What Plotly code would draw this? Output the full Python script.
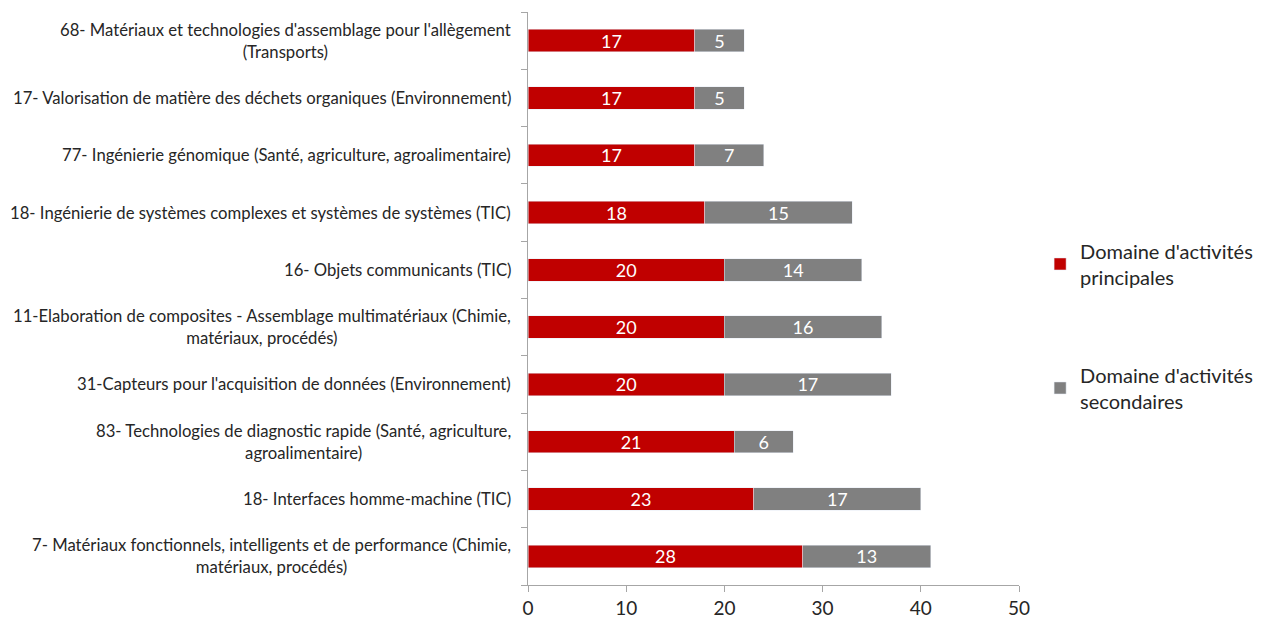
import plotly.graph_objects as go

categories = [
    "7- Matériaux fonctionnels, intelligents et de performance (Chimie,<br>matériaux, procédés)",
    "18- Interfaces homme-machine (TIC)",
    "83- Technologies de diagnostic rapide (Santé, agriculture,<br>agroalimentaire)",
    "31-Capteurs pour l'acquisition de données (Environnement)",
    "11-Elaboration de composites - Assemblage multimatériaux (Chimie,<br>matériaux, procédés)",
    "16- Objets communicants (TIC)",
    "18- Ingénierie de systèmes complexes et systèmes de systèmes (TIC)",
    "77- Ingénierie génomique (Santé, agriculture, agroalimentaire)",
    "17- Valorisation de matière des déchets organiques (Environnement)",
    "68- Matériaux et technologies d'assemblage pour l'allègement<br>(Transports)",
]
principales = [28, 23, 21, 20, 20, 20, 18, 17, 17, 17]
secondaires = [13, 17, 6, 17, 16, 14, 15, 7, 5, 5]
x_ticks = [0, 10, 20, 30, 40, 50]

FONT = "Lato, 'Open Sans', sans-serif"
ids = list(range(len(categories)))

fig = go.Figure()
fig.add_trace(go.Bar(
    y=ids, x=principales, orientation="h", name="Domaine d'activités<br>principales",
    marker=dict(color="#C00000"), text=principales, textposition="inside", textangle=0,
    insidetextanchor="middle", textfont=dict(color="white", size=18, family=FONT),
    legendgroup="a",
))
fig.add_trace(go.Bar(
    y=ids, x=secondaires, orientation="h", name="Domaine d'activités<br>secondaires",
    marker=dict(color="#808080"), text=secondaires, textposition="inside", textangle=0,
    insidetextanchor="middle", textfont=dict(color="white", size=18, family=FONT),
    legendgroup="b",
))

for i, c in enumerate(categories):
    fig.add_annotation(x=-0.030, y=i, xref="paper", yref="y", text=c,
                       showarrow=False, xanchor="right", align="center",
                       font=dict(size=16.7, color="#262626", family=FONT))

fig.update_layout(
    barmode="stack", bargap=0.61,
    width=1256, height=615,
    margin=dict(l=520, r=245, t=4, b=38, autoexpand=False),
    plot_bgcolor="white", paper_bgcolor="white",
    uniformtext=dict(minsize=18, mode="show"),
    legend=dict(x=1.043, y=0.617, xanchor="left", yanchor="top",
                font=dict(size=20, color="#262626", family=FONT),
                tracegroupgap=69, traceorder="grouped", itemwidth=30),
    showlegend=True,
)
fig.update_xaxes(range=[0, 50], tickvals=x_ticks, showgrid=False, zeroline=False,
                 showline=True, linecolor="#a6a6a6", ticks="outside", ticklen=6,
                 tickcolor="#a6a6a6", tickfont=dict(size=19, color="#262626", family=FONT),
                 automargin=False)
fig.update_yaxes(range=[-0.5, len(categories) - 0.5], tickvals=[i - 0.5 for i in range(len(categories) + 1)],
                 showticklabels=False, showgrid=False, zeroline=False, showline=True,
                 linecolor="#a6a6a6", ticks="outside", ticklen=6, tickcolor="#a6a6a6",
                 automargin=False)

fig.write_html("out.html")
